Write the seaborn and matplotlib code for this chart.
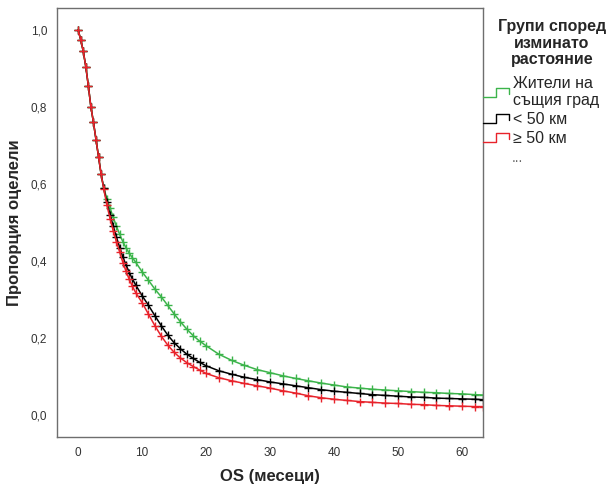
import pandas as pd
import matplotlib
matplotlib.use("Agg")
import matplotlib.pyplot as plt
import seaborn as sns
from matplotlib.legend_handler import HandlerBase
from matplotlib.lines import Line2D
from matplotlib.ticker import FuncFormatter

##### Daten #####

months = [0, 0.4, 0.8, 1.2, 1.6, 2.0, 2.4, 2.8, 3.2, 3.6, 4.0,
          4.5, 5, 5.5, 6, 6.5, 7, 7.5, 8, 8.5, 9,
          10, 11, 12, 13, 14, 15, 16, 17, 18, 19, 20,
          22, 24, 26, 28, 30, 32, 34, 36, 38, 40, 42, 44, 46, 48, 50,
          52, 54, 56, 58, 60, 62, 63.3]

surv_same_city = [1.0, 0.975, 0.945, 0.905, 0.855, 0.80, 0.76, 0.715, 0.67, 0.625, 0.59,
                  0.562, 0.537, 0.513, 0.49, 0.469, 0.45, 0.434, 0.42, 0.408, 0.397,
                  0.372, 0.35, 0.327, 0.307, 0.285, 0.263, 0.242, 0.223, 0.206, 0.192, 0.18,
                  0.158, 0.142, 0.129, 0.118, 0.11, 0.102, 0.095, 0.089, 0.083, 0.078,
                  0.073, 0.07, 0.067, 0.065, 0.063, 0.061, 0.059, 0.058, 0.056, 0.055,
                  0.053, 0.052]

surv_under_50 = [1.0, 0.975, 0.945, 0.905, 0.855, 0.80, 0.76, 0.715, 0.67, 0.625, 0.59,
                 0.553, 0.52, 0.49, 0.462, 0.435, 0.41, 0.39, 0.37, 0.353, 0.338,
                 0.31, 0.285, 0.258, 0.232, 0.208, 0.188, 0.172, 0.158, 0.147, 0.137, 0.128,
                 0.115, 0.106, 0.098, 0.092, 0.086, 0.081, 0.076, 0.071, 0.066, 0.062,
                 0.059, 0.056, 0.053, 0.051, 0.049, 0.047, 0.046, 0.044, 0.043, 0.042,
                 0.041, 0.04]

surv_over_50 = [1.0, 0.975, 0.945, 0.905, 0.855, 0.80, 0.76, 0.715, 0.67, 0.625, 0.588,
                0.545, 0.51, 0.478, 0.45, 0.423, 0.396, 0.373, 0.352, 0.334, 0.318,
                0.292, 0.262, 0.232, 0.205, 0.182, 0.163, 0.148, 0.136, 0.126, 0.117, 0.108,
                0.097, 0.089, 0.082, 0.076, 0.07, 0.063, 0.057, 0.05, 0.045, 0.041,
                0.038, 0.035, 0.033, 0.031, 0.03, 0.028, 0.027, 0.025, 0.024, 0.023,
                0.022, 0.022]

groups = ["Жители на\nсъщия град", "< 50 км", "≥ 50 км"]
colors = ["#3cb44b", "#000000", "#e8232b"]

df = pd.DataFrame({
    "months": months * 3,
    "surv": surv_same_city + surv_under_50 + surv_over_50,
    "group": [groups[0]] * len(months) + [groups[1]] * len(months) + [groups[2]] * len(months),
})


##### Legenden-Symbol (Treppe) #####

class StepHandler(HandlerBase):
    def create_artists(self, legend, orig_handle, xdescent, ydescent,
                       width, height, fontsize, trans):
        x0, y0 = -xdescent, -ydescent
        xs = [x0, x0 + 0.5 * width, x0 + 0.5 * width, x0 + width, x0 + width]
        ys = [y0 + 0.1 * height, y0 + 0.1 * height, y0 + 0.9 * height,
              y0 + 0.9 * height, y0 + 0.4 * height]
        return [Line2D(xs, ys, color=orig_handle.get_color(), lw=1.0, transform=trans)]


##### Plot #####

sns.set_style("white")
plt.rcParams["font.family"] = ["Liberation Sans", "DejaVu Sans"]

fig = plt.figure(figsize=(6.16, 4.88), dpi=100)
ax = fig.add_axes([57 / 616, 1 - 437 / 488, 426 / 616, 429 / 488])

sns.lineplot(data=df, x="months", y="surv", hue="group", hue_order=groups,
             palette=colors, estimator=None, sort=False, marker="+",
             markersize=6, linewidth=1.1, legend=False, ax=ax)
for line in ax.lines:
    line.set_markeredgecolor(line.get_color())
    line.set_markeredgewidth(1.0)

ax.set_xlim(-3.3, 63.3)
ax.set_ylim(-0.057, 1.057)
ax.set_xticks(range(0, 61, 10))
ax.set_yticks([0, 0.2, 0.4, 0.6, 0.8, 1.0])
ax.yaxis.set_major_formatter(FuncFormatter(lambda v, p: f"{v:.1f}".replace(".", ",")))
ax.tick_params(direction="out", length=5, width=1, color="#6e6e6e",
               labelsize=8.5, labelcolor="#333333", pad=2)
for s in ax.spines.values():
    s.set_color("#6e6e6e")
    s.set_linewidth(1)

ax.set_xlabel("OS (месеци)", fontsize=12, fontweight="bold")
ax.set_ylabel("Пропорция оцелели", fontsize=12, fontweight="bold")
ax.xaxis.set_label_coords(0.5, -0.074)
ax.yaxis.set_label_coords(-0.082, 0.5)

# Legende: Titel separat, Einträge über fig.legend
fig.text(552 / 616, 1 - 43 / 488, "Групи според\nизминато\nрастояние",
         ha="center", va="center", fontsize=11.5, fontweight="bold", linespacing=1.15)

handles = [Line2D([], [], color=c) for c in colors]
leg = fig.legend(handles, groups, loc="upper left",
                 bbox_to_anchor=(483 / 616, 1 - 76 / 488), frameon=False,
                 borderpad=0, borderaxespad=0, handlelength=1.6, handleheight=0.7,
                 handletextpad=0.25, labelspacing=0.25, fontsize=11.5,
                 handler_map={Line2D: StepHandler()})
fig.text(512 / 616, 1 - 162 / 488, "...", fontsize=10, color="#666666")

plt.savefig("out.png", dpi=100)
